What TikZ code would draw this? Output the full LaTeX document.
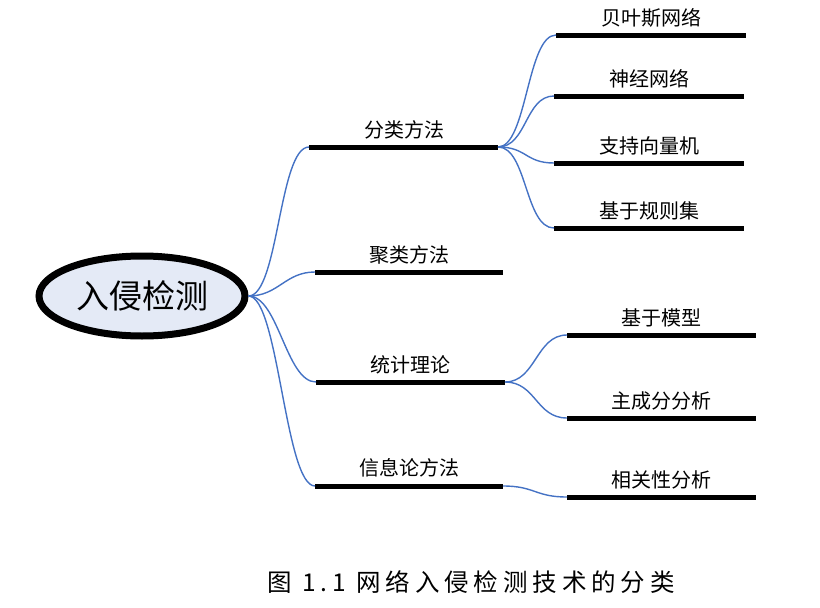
\documentclass[tikz,border=0pt]{standalone}
\usepackage{fontspec}
\usetikzlibrary{shapes.geometric}
\newfontfamily\cjk{Noto Sans CJK SC}
\newfontfamily\cjkcap[LetterSpace=20]{Noto Sans CJK SC}
\definecolor{conn}{RGB}{68,114,196}
\definecolor{rootfill}{RGB}{228,234,246}
\tikzset{
  rootnode/.style={ellipse, draw=black, line width=7pt, fill=rootfill,
    minimum width=206pt, minimum height=80pt, inner sep=0pt,
    font=\cjk\fontsize{33}{35}\selectfont},
  lbl/.style={inner sep=0pt, font=\cjk\fontsize{20}{21}\selectfont},
  bar/.style={line width=5pt, black},
  link/.style={conn, line width=1.4pt},
}
\begin{document}
\begin{tikzpicture}[x=1pt,y=-1pt]
\useasboundingbox (0,0) rectangle (820,608);
\node[rootnode] (root) at (142,296) {入侵检测};

% level 1 bars
\coordinate (a1s) at (309,147); \coordinate (a1e) at (498,147);
\coordinate (a2s) at (315,272); \coordinate (a2e) at (503,272);
\coordinate (a3s) at (316,382); \coordinate (a3e) at (505,382);
\coordinate (a4s) at (315,486); \coordinate (a4e) at (503,486);
% level 2 bars
\coordinate (b1s) at (556,35);  \coordinate (b1e) at (746,35);
\coordinate (b2s) at (554,96);  \coordinate (b2e) at (744,96);
\coordinate (b3s) at (554,163); \coordinate (b3e) at (744,163);
\coordinate (b4s) at (554,228); \coordinate (b4e) at (744,228);
\coordinate (c1s) at (567,335); \coordinate (c1e) at (756,335);
\coordinate (c2s) at (567,418); \coordinate (c2e) at (756,418);
\coordinate (d1s) at (567,497); \coordinate (d1e) at (756,497);

\foreach \p in {a1,a2,a3,a4,b1,b2,b3,b4,c1,c2,d1}
  \draw[bar] (\p s) -- (\p e);

% labels
\node[lbl] (ta1) at (404,130) {分类方法};
\node[lbl] (ta2) at (409,255) {聚类方法};
\node[lbl] (ta3) at (410,365) {统计理论};
\node[lbl] (ta4) at (409,468) {信息论方法};
\node[lbl] (tb1) at (651,18)  {贝叶斯网络};
\node[lbl] (tb2) at (649,79)  {神经网络};
\node[lbl] (tb3) at (649,146) {支持向量机};
\node[lbl] (tb4) at (649,211) {基于规则集};
\node[lbl] (tc1) at (661,318) {基于模型};
\node[lbl] (tc2) at (661,401) {主成分分析};
\node[lbl] (td1) at (661,480) {相关性分析};

% connectors
\foreach \p in {a1,a2,a3,a4}
  \draw[link] (root.east) .. controls +(30,0) and +(-30,0) .. (\p s);
\foreach \p in {b1,b2,b3,b4}
  \draw[link] (a1e) .. controls +(29,0) and +(-29,0) .. (\p s);
\foreach \p in {c1,c2}
  \draw[link] (a3e) .. controls +(31,0) and +(-31,0) .. (\p s);
\draw[link] (a4e) .. controls +(32,0) and +(-32,0) .. (d1s);

% caption
\node[inner sep=0pt, font=\cjkcap\fontsize{24.5}{26}\selectfont] (cap) at (471,582) {图 1.1 网络入侵检测技术的分类};
\end{tikzpicture}
\end{document}
